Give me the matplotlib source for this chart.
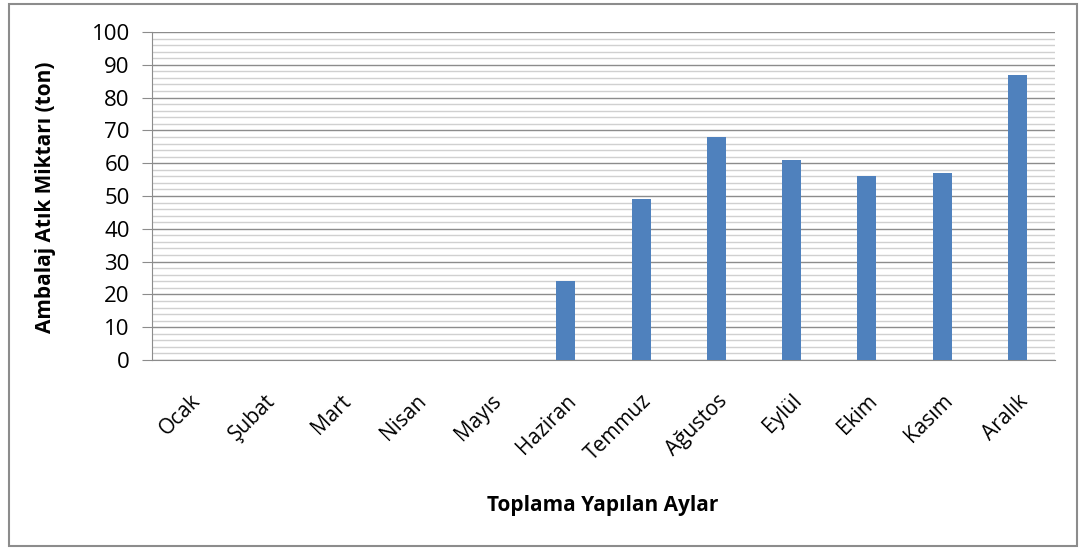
import matplotlib.pyplot as plt
from matplotlib.patches import Rectangle
from matplotlib.ticker import MultipleLocator

months = ['Ocak', 'Şubat', 'Mart', 'Nisan', 'Mayıs', 'Haziran', 'Temmuz',
          'Ağustos', 'Eylül', 'Ekim', 'Kasım', 'Aralık']
waste_ton = [0, 0, 0, 0, 0, 24, 49, 68, 61, 56, 57, 87]

plt.rcParams['font.family'] = ['Open Sans', 'DejaVu Sans']

fig = plt.figure(figsize=(10.84, 5.49), dpi=100)
ax = fig.add_axes([152 / 1084, 1 - 360 / 549, 903 / 1084, 328 / 549])

x = range(len(months))
ax.bar(x, waste_ton, width=0.25, color='#4f81bd', zorder=3)

ax.set_xlim(-0.5, len(months) - 0.5)
ax.set_ylim(0, 100)
ax.yaxis.set_major_locator(MultipleLocator(10))
ax.yaxis.set_minor_locator(MultipleLocator(2))
ax.grid(axis='y', which='major', color='#8c8c8c', linewidth=1.0, zorder=1)
ax.grid(axis='y', which='minor', color='#d0d0d0', linewidth=1.0, zorder=0)

ax.set_xticks(list(x))
ax.set_xticklabels(months, rotation=45, ha='right', rotation_mode='anchor',
                   fontsize=15)
ax.tick_params(axis='x', length=0, pad=22)
ax.tick_params(axis='y', which='major', length=7, color='#8c8c8c',
               labelsize=16, pad=9)
ax.tick_params(axis='y', which='minor', length=0)

for side in ['top', 'right']:
    ax.spines[side].set_visible(False)
for side in ['left', 'bottom']:
    ax.spines[side].set_color('#8c8c8c')

fig.text(46 / 1084, 1 - 197 / 549, 'Ambalaj Atık Miktarı (ton)', fontsize=15,
         fontweight='bold', rotation=90, ha='center', va='center')
fig.text(603 / 1084, 1 - 505 / 549, 'Toplama Yapılan Aylar', fontsize=15,
         fontweight='bold', ha='center', va='center')

fig.patches.append(Rectangle((9 / 1084, 3 / 549), 1068 / 1084, 542 / 549,
                             transform=fig.transFigure, fill=False,
                             edgecolor='#8c8c8c', linewidth=1.5))

fig.savefig('out.png', dpi=100)
